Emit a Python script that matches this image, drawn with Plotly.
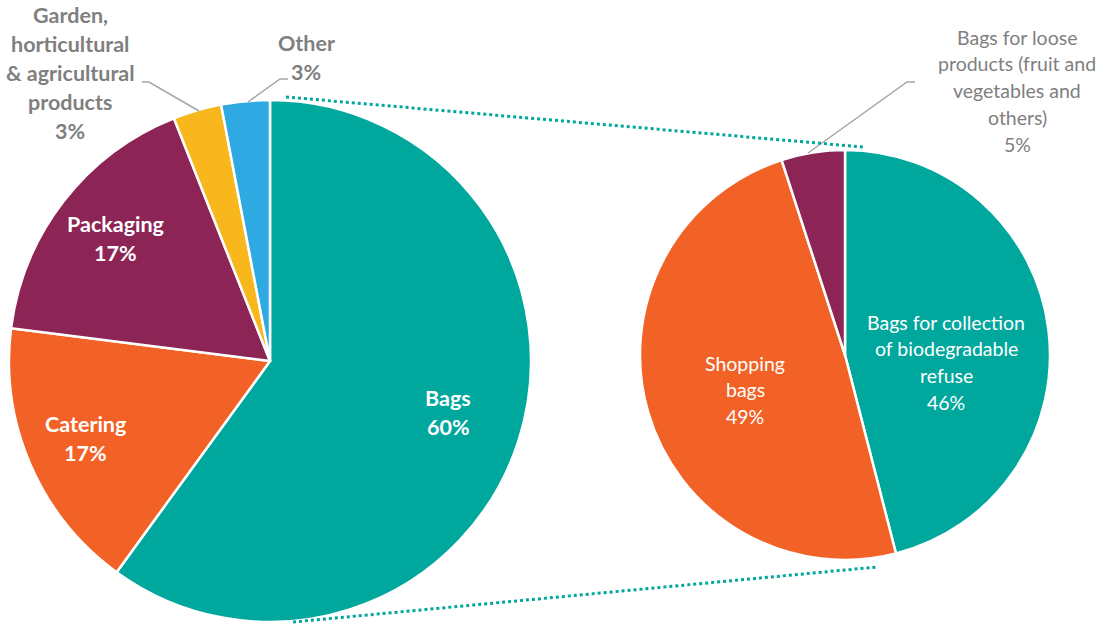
import plotly.graph_objects as go

W, H = 1102, 626

# ---- data ----
main_labels = ["Bags", "Catering", "Packaging",
               "Garden, horticultural & agricultural products", "Other"]
main_values = [60, 17, 17, 3, 3]
main_colors = ["#00A79D", "#F26125", "#8C2456", "#F8B71C", "#2FA9E1"]

sub_labels = ["Bags for collection of biodegradable refuse", "Shopping bags",
              "Bags for loose products (fruit and vegetables and others)"]
sub_values = [46, 49, 5]
sub_colors = ["#00A79D", "#F26125", "#8C2456"]

# label line splits
main_label_lines = [["Bags"], ["Catering"], ["Packaging"],
                    ["Garden,", "horticultural", "& agricultural", "products"], ["Other"]]
sub_label_lines = [["Bags for collection", "of biodegradable", "refuse"],
                   ["Shopping", "bags"],
                   ["Bags for loose", "products (fruit and", "vegetables and", "others)"]]

FONT = "Lato, 'Open Sans', sans-serif"
GREY = "#7F7F7F"
TEAL = "#00A79D"


def px_x(x):
    return x / W


def px_y(y):
    return 1 - y / H


fig = go.Figure()

# left (main) pie: centre (270, 361), radius 261
cxL, cyL, rL = 270, 361, 261
fig.add_trace(go.Pie(
    labels=main_labels, values=main_values, sort=False, direction="clockwise",
    rotation=0, textinfo="none", hoverinfo="label+percent",
    marker=dict(colors=main_colors, line=dict(color="white", width=2.5)),
    domain=dict(x=[px_x(cxL - rL), px_x(cxL + rL)], y=[px_y(cyL + rL), px_y(cyL - rL)]),
))

# right (sub) pie: centre (845, 355), radius 205
cxR, cyR, rR = 845, 355, 205
fig.add_trace(go.Pie(
    labels=sub_labels, values=sub_values, sort=False, direction="clockwise",
    rotation=0, textinfo="none", hoverinfo="label+percent",
    marker=dict(colors=sub_colors, line=dict(color="white", width=2.5)),
    domain=dict(x=[px_x(cxR - rR), px_x(cxR + rR)], y=[px_y(cyR + rR), px_y(cyR - rR)]),
))

annotations = []


def add_lines(lines, cx, y0, spacing, size, color, bold):
    for i, line in enumerate(lines):
        txt = f"<b>{line}</b>" if bold else line
        annotations.append(dict(
            x=px_x(cx), y=px_y(y0 + i * spacing), xref="paper", yref="paper",
            text=txt, showarrow=False, xanchor="center", yanchor="middle",
            font=dict(family=FONT, size=size, color=color)))


# main pie labels
main_pos = [(448, 398, "white"), (85, 424, "white"), (115, 224, "white"),
            (70, 15, GREY), (306, 43, GREY)]
for lines, v, (x, y, c) in zip(main_label_lines, main_values, main_pos):
    add_lines(lines + [f"{v}%"], x, y, 29, 21.5, c, True)

# sub pie labels
sub_pos = [(946, 322, "white"), (745, 363, "white"), (1017, 37, GREY)]
for lines, v, (x, y, c) in zip(sub_label_lines, sub_values, sub_pos):
    add_lines(lines + [f"{v}%"], x, y, 26.8, 19.5, c, False)

shapes = []
# leader lines
for pts in [[(142, 82), (149, 82), (199, 111)],
            [(288, 79), (280, 79), (248, 102)],
            [(915, 82), (907, 82), (808, 153)]]:
    path = "M " + " L ".join(f"{px_x(x)},{px_y(y)}" for x, y in pts)
    shapes.append(dict(type="path", path=path, xref="paper", yref="paper",
                       line=dict(color="#A6A6A6", width=1.5)))

# connector dotted lines
for (x0, y0), (x1, y1) in [((286, 97), (863, 147)), ((293, 622), (877, 567))]:
    shapes.append(dict(type="line", xref="paper", yref="paper",
                       x0=px_x(x0), y0=px_y(y0), x1=px_x(x1), y1=px_y(y1),
                       line=dict(color=TEAL, width=3, dash="dot")))

fig.update_layout(
    width=W, height=H, margin=dict(l=0, r=0, t=0, b=0),
    showlegend=False, paper_bgcolor="white", plot_bgcolor="white",
    annotations=annotations, shapes=shapes,
)

fig.write_html("out.html")
